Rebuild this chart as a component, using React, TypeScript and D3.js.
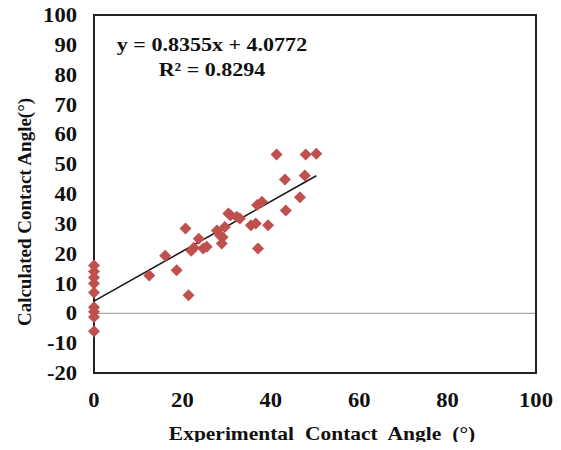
import React, { useRef, useEffect } from 'react';
import * as d3 from 'd3';

// experimental vs calculated contact angle
const expAngle = [
  0, 0, 0, 0, 0, 0, 0, 0, 0,
  12.5, 16.1, 18.7, 20.7, 21.4, 22.0, 22.6, 23.7, 24.7, 25.5,
  27.8, 28.5, 28.9, 29.1, 29.6, 30.4, 30.9, 32.3, 33.0,
  35.5, 36.6, 36.9, 37.1, 38.0, 39.4,
  41.3, 43.2, 43.4, 46.6, 47.7, 47.9, 50.3,
];
const calcAngle = [
  16, 14, 12, 10, 7, 2, 0.5, -1.2, -6,
  12.7, 19.3, 14.4, 28.4, 6.1, 21.0, 22.0, 25.0, 21.7, 22.3,
  27.8, 26.2, 23.4, 25.5, 28.9, 33.5, 32.9, 32.4, 31.8,
  29.5, 30.1, 36.3, 21.7, 37.4, 29.5,
  53.2, 44.9, 34.5, 38.9, 46.2, 53.2, 53.5,
];
const slope = 0.8355;
const intercept = 4.0772;
const xTicks = [0, 20, 40, 60, 80, 100];
const yTicks = [-20, -10, 0, 10, 20, 30, 40, 50, 60, 70, 80, 90, 100];

const W = 561, H = 450;
const m = { left: 94, top: 15, right: 25, bottom: 77 };
const sx = 1.13; // the original is slightly stretched sideways

export default function App() {
  const ref = useRef<SVGSVGElement>(null);

  useEffect(() => {
    const svg = d3.select(ref.current);
    svg.selectAll('*').remove();
    const font = '"Liberation Serif", "Times New Roman", serif';

    const x = d3.scaleLinear().domain([0, 100]).range([m.left, W - m.right]);
    const y = d3.scaleLinear().domain([-20, 100]).range([H - m.bottom, m.top]);

    svg.append('rect').attr('width', W).attr('height', H).attr('fill', '#fff');

    // zero line
    svg.append('line')
      .attr('x1', x(0)).attr('x2', x(100))
      .attr('y1', y(0)).attr('y2', y(0))
      .attr('stroke', '#a6a6a6').attr('stroke-width', 1.2);

    // frame
    svg.append('rect')
      .attr('x', x(0)).attr('y', y(100))
      .attr('width', x(100) - x(0)).attr('height', y(-20) - y(100))
      .attr('fill', 'none').attr('stroke', '#222').attr('stroke-width', 2);

    const label = (tx: number, ty: number, txt: string, size: number, anchor: string, extra = '') =>
      svg.append('text')
        .attr('transform', `translate(${tx},${ty}) ${extra} scale(${sx},1)`)
        .attr('text-anchor', anchor)
        .attr('font-family', font).attr('font-weight', 'bold').attr('font-size', size)
        .attr('fill', '#111')
        .text(txt);

    // tick labels
    yTicks.forEach(d => label(x(0) - 17, y(d) + 7, String(d), 20, 'end'));
    xTicks.forEach(d => label(x(d), 407, String(d), 20, 'middle'));

    // titles
    label(322, 440, 'Experimental Contact Angle (°)', 19, 'middle').attr('word-spacing', 5);
    svg.append('text')
      .attr('transform', `translate(31,${(y(100) + y(-20)) / 2 + 18}) rotate(-90)`)
      .attr('text-anchor', 'middle')
      .attr('font-family', font).attr('font-weight', 'bold').attr('font-size', 19)
      .attr('fill', '#111')
      .text('Calculated Contact Angle(°)');

    // trend line
    const xMax = d3.max(expAngle) as number;
    svg.append('line')
      .attr('x1', x(0)).attr('y1', y(intercept))
      .attr('x2', x(xMax)).attr('y2', y(slope * xMax + intercept))
      .attr('stroke', '#1a1a1a').attr('stroke-width', 1.6);

    // points
    const r = 6;
    svg.append('g').selectAll('path').data(expAngle).join('path')
      .attr('transform', (d, i) => `translate(${x(d)},${y(calcAngle[i])})`)
      .attr('d', `M0,${-r}L${r},0L0,${r}L${-r},0Z`)
      .attr('fill', '#c0504d');

    // equation
    label(212, 51, `y = ${slope}x + ${intercept}`, 19.5, 'middle');
    label(212, 76, 'R² = 0.8294', 19.5, 'middle');
  }, []);

  return <svg ref={ref} width={W} height={H} style={{ display: 'block', margin: '-8px' }} />;
}
